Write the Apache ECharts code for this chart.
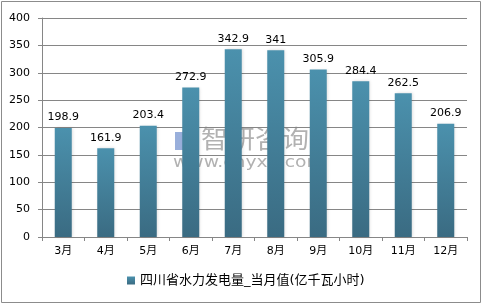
<!DOCTYPE html>
<html><head><meta charset="utf-8">
<script src="https://cdn.jsdelivr.net/npm/echarts@6/dist/echarts.min.js"></script>
<style>html,body{margin:0;padding:0;background:#fff}#c{width:485px;height:306px}</style>
</head><body><div id="c"></div>
<script>
var categories = ['3月','4月','5月','6月','7月','8月','9月','10月','11月','12月'];
var values = [198.9, 161.9, 203.4, 272.9, 342.9, 341, 305.9, 284.4, 262.5, 206.9];
var seriesName = '四川省水力发电量_当月值(亿千瓦小时)';
var yMin = 0, yMax = 400, yStep = 50;

var font = 'DejaVu Sans, Noto Sans CJK SC, sans-serif';
var chart = echarts.init(document.getElementById('c'), null, {renderer:'canvas'});
chart.setOption({
  animation: false,
  backgroundColor: '#fff',
  graphic: [
    {type:'rect', shape:{x:1.5,y:1.5,width:479,height:301}, style:{fill:'none', stroke:'#8c8c8c', lineWidth:1}, z:-1},
    {type:'group', zlevel:1, children:[
      {type:'text', x:201, y:126, scaleX:1.08, style:{text:'智研咨询', font:'25px Noto Sans CJK SC', fill:'rgba(125,125,125,0.6)'}},
      {type:'text', x:173, y:156, scaleX:1.25, style:{text:'www.chyxx.com', font:'15px DejaVu Sans', fill:'rgba(125,125,125,0.6)'}},
      {type:'rect', shape:{x:175,y:132,width:8,height:18}, style:{fill:'rgba(70,110,190,0.55)'}},
      {type:'rect', shape:{x:185,y:134,width:9,height:7}, style:{fill:'rgba(90,130,200,0.5)'}},
      {type:'rect', shape:{x:185,y:143,width:9,height:7}, style:{fill:'rgba(120,140,170,0.5)'}}
    ]}
  ],
  grid: {left:42, right:18, top:18, bottom:69, containLabel:false},
  legend: {
    bottom: 14, left: 122,
    itemWidth: 8, itemHeight: 8, itemGap: 4,
    icon: 'rect',
    textStyle: {fontFamily: font, fontSize: 13, color:'#000'},
    data: [seriesName]
  },
  xAxis: {
    type: 'category', data: categories,
    axisLine: {lineStyle:{color:'#868686'}},
    axisTick: {show:true, alignWithLabel:false, length:4, lineStyle:{color:'#868686'}},
    axisLabel: {fontFamily: font, fontSize: 11, color:'#000', margin: 9}
  },
  yAxis: {
    type: 'value', min: yMin, max: yMax, interval: yStep,
    axisLine: {show:true, lineStyle:{color:'#868686'}},
    axisTick: {show:true, length:4, lineStyle:{color:'#868686'}},
    splitLine: {lineStyle:{color:'#868686'}},
    axisLabel: {fontFamily: font, fontSize: 11, color:'#000', margin: 12}
  },
  series: [{
    name: seriesName, type: 'bar', data: values, barWidth: 17,
    itemStyle: {
      color: new echarts.graphic.LinearGradient(0,0,0,1,[{offset:0,color:'#4b91ad'},{offset:1,color:'#3a6b82'}]),
      shadowColor:'rgba(0,0,0,0.15)', shadowBlur:3, shadowOffsetX:1
    },
    label: {show:true, position:'top', distance:5, fontFamily: font, fontSize: 11, color:'#000'}
  }]
});
</script></body></html>
